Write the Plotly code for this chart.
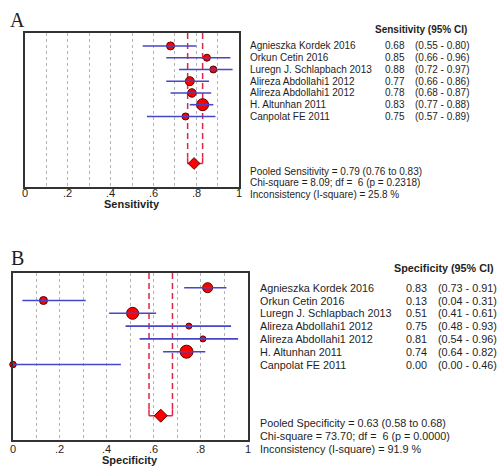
import plotly.graph_objects as go

# ---------------- data ----------------
studies = ["Agnieszka Kordek 2016", "Orkun Cetin 2016", "Luregn J. Schlapbach 2013",
           "Alireza Abdollahi1 2012", "Alireza Abdollahi1 2012", "H. Altunhan 2011",
           "Canpolat FE 2011"]
rows = [1, 2, 3, 4, 5, 6, 7]
pooled_row = 11

sens_est = [0.68, 0.85, 0.88, 0.77, 0.78, 0.83, 0.75]
sens_lo = [0.55, 0.66, 0.72, 0.66, 0.68, 0.77, 0.57]
sens_hi = [0.80, 0.96, 0.97, 0.86, 0.87, 0.88, 0.89]
sens_pooled = [0.79, 0.76, 0.83]
sens_weight = [8, 7, 7, 9, 8.5, 12, 7]
sens_stats = ["Pooled Sensitivity = 0.79 (0.76 to 0.83)",
              "Chi-square = 8.09; df =\u00a0 6 (p = 0.2318)",
              "Inconsistency (I-square) = 25.8 %"]

spec_est = [0.83, 0.13, 0.51, 0.75, 0.81, 0.74, 0.00]
spec_lo = [0.73, 0.04, 0.41, 0.48, 0.54, 0.64, 0.00]
spec_hi = [0.91, 0.31, 0.61, 0.93, 0.96, 0.82, 0.46]
spec_pooled = [0.63, 0.58, 0.68]
spec_weight = [10, 8, 12, 6, 6, 13, 6.5]
spec_stats = ["Pooled Specificity = 0.63 (0.58 to 0.68)",
              "Chi-square = 73.70; df =\u00a0 6 (p = 0.0000)",
              "Inconsistency (I-square) = 91.9 %"]

tick_vals = [0, 0.2, 0.4, 0.6, 0.8, 1.0]
tick_text = ["0", ".2", ".4", ".6", ".8", "1"]
grid_vals = [0, 0.1, 0.2, 0.3, 0.4, 0.5, 0.6, 0.7, 0.8, 0.9, 1.0]

# ---------------- layout helpers ----------------
W, H = 498, 466
def px(x): return x / W
def py(y): return 1 - y / H

FONT = "Liberation Sans, Arial, sans-serif"
TXT = "#1e1e1e"
RED = "#ff0000"
EDGE = "#5a0000"
BLUE = "#4646c8"
CIRED = "#dc2848"

fig = go.Figure()

panels = [
    dict(xa="x", ya="y", est=sens_est, lo=sens_lo, hi=sens_hi, pooled=sens_pooled,
         w=sens_weight, stats=sens_stats, ytop=-0.1, ybot=13.0,
         box=(25, 239, 33, 187), fs=10, dsize=7, tick_y=193,
         name_x=248, val_x=383, ci_x=413, head_x=373, head_y=30,
         head="Sensitivity (95% CI)", stat_y=[171, 182.5, 194],
         title="Sensitivity", title_y=204, letter="A", letter_xy=(8, 20)),
    dict(xa="x2", ya="y2", est=spec_est, lo=spec_lo, hi=spec_hi, pooled=spec_pooled,
         w=spec_weight, stats=spec_stats, ytop=-0.15, ybot=12.9,
         box=(13, 247.5, 273, 440), fs=10.8, dsize=8, tick_y=449,
         name_x=258, val_x=404, ci_x=436, head_x=392, head_y=268,
         head="Specificity (95% CI)", stat_y=[423, 436, 449],
         title="Specificity", title_y=459.5, letter="B", letter_xy=(9, 258)),
]

annotations = []
for i, p in enumerate(panels):
    xa, ya = p["xa"], p["ya"]
    # pooled CI dashed lines
    for v in p["pooled"][1:]:
        fig.add_trace(go.Scatter(x=[v, v], y=[p["ytop"], pooled_row - 0.5], mode="lines",
                                 line=dict(color=CIRED, width=1.5, dash="6px,4px"),
                                 xaxis=xa, yaxis=ya, showlegend=False, hoverinfo="skip"))
        fig.add_trace(go.Scatter(x=[v, v], y=[pooled_row - 0.5, pooled_row], mode="lines",
                                 line=dict(color=CIRED, width=1.5),
                                 xaxis=xa, yaxis=ya, showlegend=False, hoverinfo="skip"))
    fig.add_trace(go.Scatter(x=p["pooled"][1:], y=[pooled_row, pooled_row], mode="lines",
                             line=dict(color=CIRED, width=1.5),
                             xaxis=xa, yaxis=ya, showlegend=False, hoverinfo="skip"))
    # study markers
    fig.add_trace(go.Scatter(x=p["est"], y=rows, mode="markers",
                             marker=dict(color=RED, size=p["w"], opacity=1,
                                         line=dict(color=EDGE, width=1)),
                             xaxis=xa, yaxis=ya, showlegend=False, cliponaxis=False))
    # CI lines
    for r, lo, hi in zip(rows, p["lo"], p["hi"]):
        fig.add_trace(go.Scatter(x=[lo, hi], y=[r, r], mode="lines",
                                 line=dict(color=BLUE, width=1.6),
                                 xaxis=xa, yaxis=ya, showlegend=False, hoverinfo="skip"))
    # pooled diamond
    fig.add_trace(go.Scatter(x=[p["pooled"][0]], y=[pooled_row], mode="markers",
                             marker=dict(symbol="diamond", color=RED, size=p["dsize"] + 2,
                                         opacity=1, line=dict(color=EDGE, width=1)),
                             xaxis=xa, yaxis=ya, showlegend=False))

    x0, x1, y0, y1 = p["box"]
    ax_suffix = "" if i == 0 else "2"
    fig.update_layout(**{
        "xaxis" + ax_suffix: dict(domain=[px(x0), px(x1)], range=[0, 1], anchor=ya,
                                  tickvals=grid_vals, showticklabels=False, ticks="",
                                  showgrid=True, gridcolor="#b4b4b4", gridwidth=1, griddash="3px,3px",
                                  showline=True, mirror=True, linecolor="#333333", linewidth=1.5,
                                  zeroline=False),
        "yaxis" + ax_suffix: dict(domain=[py(y1), py(y0)], range=[p["ybot"], p["ytop"]],
                                  anchor=xa, showticklabels=False, ticks="", showgrid=False,
                                  zeroline=False, showline=True, mirror=True,
                                  linecolor="#333333", linewidth=1.5),
    })

    # tick labels
    for tv, tt in zip(tick_vals, tick_text):
        annotations.append(dict(x=tv, xref=xa, y=py(p["tick_y"]), yref="paper", text=tt,
                                showarrow=False, xanchor="center", yanchor="middle",
                                font=dict(family=FONT, size=11, color=TXT)))

    fs = p["fs"]
    for r, name, e, lo, hi in zip(rows, studies, p["est"], p["lo"], p["hi"]):
        for xx, t in [(p["name_x"], name), (p["val_x"], f"{e:.2f}"),
                      (p["ci_x"], f"({lo:.2f} - {hi:.2f})")]:
            annotations.append(dict(x=px(xx), xref="paper", y=r, yref=ya, text=t,
                                    showarrow=False, xanchor="left", yanchor="middle",
                                    font=dict(family=FONT, size=fs, color=TXT)))
    annotations.append(dict(x=px(p["head_x"]), xref="paper", y=py(p["head_y"]), yref="paper",
                            text="<b>" + p["head"] + "</b>", showarrow=False,
                            xanchor="left", yanchor="middle",
                            font=dict(family=FONT, size=fs, color=TXT)))
    for sy, st in zip(p["stat_y"], p["stats"]):
        annotations.append(dict(x=px(p["name_x"]), xref="paper", y=py(sy), yref="paper",
                                text=st, showarrow=False, xanchor="left", yanchor="middle",
                                font=dict(family=FONT, size=fs, color=TXT)))
    annotations.append(dict(x=px((x0 + x1) / 2), xref="paper", y=py(p["title_y"]), yref="paper",
                            text="<b>" + p["title"] + "</b>", showarrow=False,
                            xanchor="center", yanchor="middle",
                            font=dict(family=FONT, size=11, color=TXT)))
    lx, ly = p["letter_xy"]
    annotations.append(dict(x=px(lx), xref="paper", y=py(ly), yref="paper",
                            text=p["letter"], showarrow=False, xanchor="left", yanchor="middle",
                            font=dict(family="Liberation Serif, Times New Roman, serif",
                                      size=20, color=TXT)))

fig.update_layout(width=W, height=H, margin=dict(l=0, r=0, t=0, b=0),
                  paper_bgcolor="white", plot_bgcolor="white",
                  annotations=annotations, showlegend=False)

fig.write_html("out.html", config={"displayModeBar": False},
               post_script="document.body.style.margin='0';document.body.style.padding='0';"
                           "document.body.style.overflow='hidden';")
